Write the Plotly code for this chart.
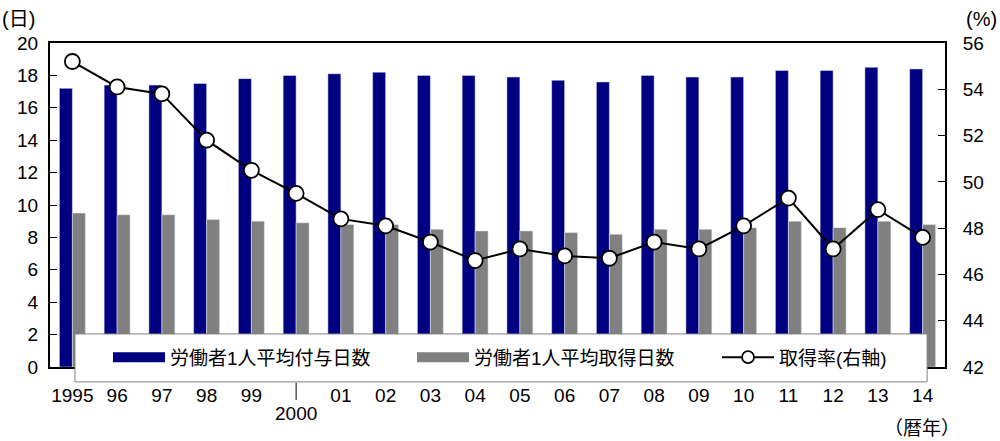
import plotly.graph_objects as go

years = ["1995","1996","1997","1998","1999","2000","2001","2002","2003","2004",
         "2005","2006","2007","2008","2009","2010","2011","2012","2013","2014"]
tick_labels = ["1995","96","97","98","99","","01","02","03","04",
               "05","06","07","08","09","10","11","12","13","14"]
granted_days = [17.2,17.4,17.4,17.5,17.8,18.0,18.1,18.2,18.0,18.0,
                17.9,17.7,17.6,18.0,17.9,17.9,18.3,18.3,18.5,18.4]
taken_days = [9.5,9.4,9.4,9.1,9.0,8.9,8.8,8.8,8.5,8.4,
              8.4,8.3,8.2,8.5,8.5,8.6,9.0,8.6,9.0,8.8]
take_rate = [55.2,54.1,53.8,51.8,50.5,49.5,48.4,48.1,47.4,46.6,
             47.1,46.8,46.7,47.4,47.1,48.1,49.3,47.1,48.8,47.6]

NAVY = "#000080"
GRAY = "#808080"
FONT = "Liberation Sans, Arial, Noto Sans CJK JP"
i2000 = years.index("2000")

fig = go.Figure()
fig.add_trace(go.Bar(x=years, y=granted_days, marker_color=NAVY, showlegend=False))
fig.add_trace(go.Bar(x=years, y=taken_days, marker_color=GRAY, showlegend=False))
fig.add_trace(go.Scatter(x=years, y=take_rate, yaxis="y2", mode="lines+markers",
                         line=dict(color="black", width=2),
                         marker=dict(size=15, color="white", line=dict(color="black", width=1.8)),
                         showlegend=False))
# legend-only entries (no drawn data)
fig.add_trace(go.Scatter(x=[years[0]], y=[None], mode="lines", line=dict(color=NAVY, width=10),
                         name="労働者1人平均付与日数", legend="legend"))
fig.add_trace(go.Scatter(x=[years[0]], y=[None], mode="lines", line=dict(color=GRAY, width=10),
                         name="労働者1人平均取得日数", legend="legend2"))
fig.add_trace(go.Scatter(x=[years[0]], y=[None], mode="lines+markers", yaxis="y2",
                         line=dict(color="black", width=2),
                         marker=dict(size=12, color="white", line=dict(color="black", width=1.8)),
                         name="取得率(右軸)", legend="legend3"))

legend_common = dict(orientation="h", xanchor="left", y=0.03, yanchor="middle",
                     bgcolor="rgba(0,0,0,0)", borderwidth=0, itemwidth=52,
                     font=dict(family=FONT, size=19), itemclick=False, itemdoubleclick=False)

fig.update_layout(
    width=1000, height=441,
    margin=dict(l=50, r=55, t=43, b=74),
    paper_bgcolor="white", plot_bgcolor="white",
    font=dict(family=FONT, size=19, color="black"),
    barmode="group", bargap=0.42, bargroupgap=0,
    xaxis=dict(type="category", categoryorder="array", categoryarray=years,
               range=[-0.5, len(years) - 0.5], autorange=False,
               tickvals=years, ticktext=tick_labels, ticklabelstandoff=10,
               showline=True, linecolor="black", linewidth=2, mirror=True,
               ticks="", showgrid=False, tickfont=dict(size=19)),
    yaxis=dict(range=[0, 20], dtick=2, showline=True, linecolor="black", linewidth=2,
               ticks="inside", ticklen=7, tickcolor="black", showgrid=False, zeroline=False,
               tickfont=dict(size=19), ticklabelstandoff=6),
    yaxis2=dict(range=[42, 56], dtick=2, overlaying="y", side="right",
                showline=True, linecolor="black", linewidth=2,
                ticks="inside", ticklen=7, tickcolor="black", showgrid=False, zeroline=False,
                tickfont=dict(size=19), ticklabelstandoff=12),
    legend=dict(x=0.0648, **legend_common),
    legend2=dict(x=0.4045, **legend_common),
    legend3=dict(x=0.7453, **legend_common),
    shapes=[
        dict(type="rect", xref="paper", yref="paper", x0=0.0279, x1=0.98,
             y0=-0.046, y1=0.102, fillcolor="white", line=dict(color=GRAY, width=1),
             layer="above"),
        dict(type="line", xref="x", yref="paper", x0=i2000, x1=i2000,
             y0=-0.049, y1=-0.102, line=dict(color="black", width=1)),
    ],
    annotations=[
        dict(text="2000", x=i2000, xref="x", y=-0.142, yref="paper",
             showarrow=False, yanchor="middle", font=dict(size=19)),
        dict(text="（暦年）", x=1.019, xref="paper", y=-0.19, yref="paper",
             showarrow=False, xanchor="right", yanchor="middle", font=dict(size=19)),
        dict(text="(日)", x=-0.0559, xref="paper", y=1.075, yref="paper",
             showarrow=False, xanchor="left", yanchor="middle", font=dict(size=20)),
        dict(text="(%)", x=1.06, xref="paper", y=1.075, yref="paper",
             showarrow=False, xanchor="right", yanchor="middle", font=dict(size=20)),
    ],
)

fig.write_html("out.html")
